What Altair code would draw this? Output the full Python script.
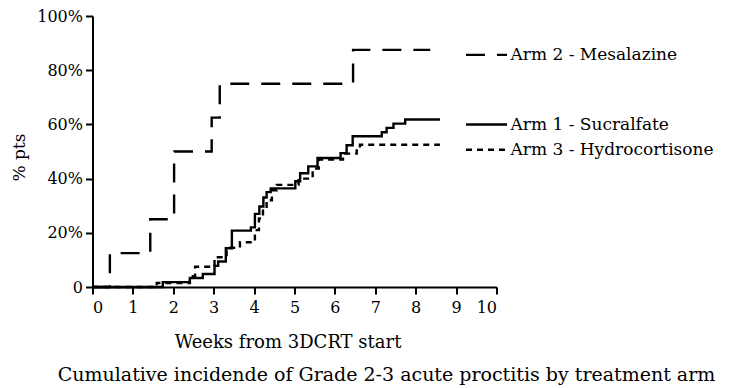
import altair as alt
import pandas as pd

# ---- data ----
arm1_weeks = [0, 1.74, 2.41, 2.73, 3.02, 3.11, 3.30, 3.45, 3.92, 4.02, 4.13, 4.23, 4.31, 4.41,
              5.02, 5.14, 5.34, 5.57, 6.14, 6.29, 6.44, 7.16, 7.28, 7.45, 7.74, 8.60]
arm1_pct = [0, 1.8, 3.3, 4.8, 7.8, 9.4, 14.3, 20.8, 22.0, 27.0, 29.7, 33.0, 35.0, 36.4,
            39.0, 42.0, 44.5, 47.6, 49.4, 52.3, 55.6, 57.1, 58.7, 60.3, 61.8, 61.8]

arm2_weeks = [0, 0.43, 1.43, 2.02, 2.95, 3.15, 6.45, 8.36]
arm2_pct = [0, 12.5, 25, 50, 62.5, 75, 87.5, 87.5]

arm3_weeks = [0, 1.59, 2.41, 2.54, 3.02, 3.32, 3.65, 4.02, 4.12, 4.22, 4.31, 4.44, 4.56,
              5.10, 5.45, 5.60, 6.20, 6.54, 6.62, 8.60]
arm3_pct = [0, 1.5, 4.0, 7.5, 11.0, 14.5, 16.5, 21.0, 25.3, 29.0, 32.0, 35.7, 37.7,
            40.0, 43.7, 47.0, 49.2, 51.0, 52.5, 52.5]

arm_names = ["Arm 2 - Mesalazine", "Arm 1 - Sucralfate", "Arm 3 - Hydrocortisone"]
arm_dash = [[19, 12], [1, 0], [6, 5]]
x_ticks = list(range(0, 11))
y_ticks = [0, 20, 40, 60, 80, 100]
x_title = "Weeks from 3DCRT start"
y_title = "% pts"
caption = "Cumulative incidende of Grade 2-3 acute proctitis by treatment arm"

FONT = "DejaVu Serif"

rows = []
for name, ws, ps in [(arm_names[1], arm1_weeks, arm1_pct),
                     (arm_names[0], arm2_weeks, arm2_pct),
                     (arm_names[2], arm3_weeks, arm3_pct)]:
    for w, p in zip(ws, ps):
        rows.append({"arm": name, "weeks": w, "pct": p})
df = pd.DataFrame(rows)

leg = pd.DataFrame({"arm": arm_names,
                    "final": [arm2_pct[-1], arm1_pct[-1], arm3_pct[-1]]})

xs = alt.Scale(domain=[0, 10], nice=False)
ys = alt.Scale(domain=[0, 100], nice=False)
dash_scale = alt.Scale(domain=arm_names, range=arm_dash)

lines = alt.Chart(df).mark_line(interpolate="step-after", color="black", strokeWidth=2.4).encode(
    x=alt.X("weeks:Q", scale=xs,
            axis=alt.Axis(values=x_ticks, title=x_title, grid=False, format="d",
                          labelPadding=5, titleFontSize=18,
                          titleX=195, titleY=55, titleBaseline="middle")),
    y=alt.Y("pct:Q", scale=ys,
            axis=alt.Axis(values=y_ticks, title=y_title, grid=False,
                          labelExpr="datum.value == 0 ? '0' : datum.value + '%'",
                          titleX=-73, titleY=141, titleAngle=-90, titleFontSize=17,
                          titleBaseline="middle", titleAlign="center")),
    strokeDash=alt.StrokeDash("arm:N", scale=dash_scale, legend=None),
    detail="arm:N",
    order="weeks:Q",
)

leg_rules = alt.Chart(leg).mark_rule(color="black", strokeWidth=2.4, yOffset=5).encode(
    x=alt.value(373.5), x2=alt.value(414.5),
    y=alt.Y("final:Q", scale=ys),
    strokeDash=alt.StrokeDash("arm:N", scale=dash_scale, legend=None),
)

leg_text = alt.Chart(leg).mark_text(align="left", baseline="middle", dy=5, font=FONT,
                                    fontSize=17, color="black").encode(
    x=alt.value(418),
    y=alt.Y("final:Q", scale=ys),
    text="arm:N",
)

cap = alt.Chart(pd.DataFrame({"t": [caption]})).mark_text(
    align="center", baseline="middle", font=FONT, fontSize=19, color="black").encode(
    x=alt.value(294), y=alt.value(359), text="t:N")

chart = alt.layer(lines, leg_rules, leg_text, cap).properties(
    width=404, height=271,
    autosize=alt.AutoSizeParams(type="none"),
    padding={"left": 84.5, "top": 8, "right": 227.5, "bottom": 99},
    background="white",
).configure_view(stroke=None).configure_axis(
    domainColor="black", domainWidth=2, tickColor="black", tickWidth=2, tickSize=7,
    labelColor="black", labelFont=FONT, labelFontSize=16, labelPadding=3,
    titleColor="black", titleFont=FONT, titleFontWeight="normal",
)

chart.save("out.html", embed_options={"renderer": "svg", "actions": False})
